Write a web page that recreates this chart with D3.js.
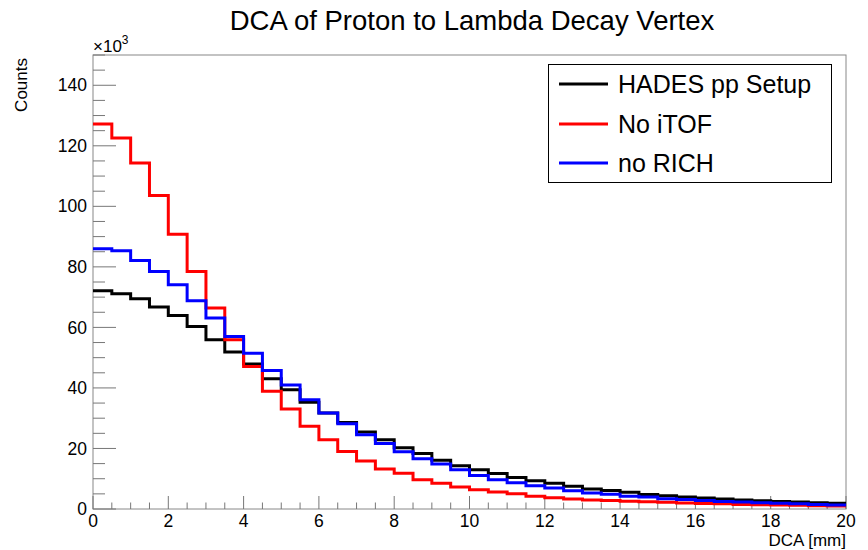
<!DOCTYPE html>
<html>
<head>
<meta charset="utf-8">
<script src="https://cdn.jsdelivr.net/npm/d3@7"></script>
<style>
	body { margin: 0; background: #fff; }
	svg text { font-family: "Liberation Sans", Arial, sans-serif; fill: #000; }
</style>
</head>
<body>
<svg id="chart" width="868" height="550"></svg>
<script>
	// bin contents (x10^3 counts), 40 bins of 0.5 mm from 0 to 20 mm
	var hadesPP = [72.1, 71.1, 69.5, 66.7, 63.9, 60.3, 55.9, 51.9, 47.9, 43.0,
		39.4, 35.3, 31.7, 28.6, 25.4, 22.9, 20.2, 18.3, 16.1, 14.3,
		13.0, 11.7, 10.4, 9.3, 8.5, 7.5, 6.6, 6.1, 5.5, 4.8,
		4.4, 4.0, 3.6, 3.3, 3.0, 2.7, 2.5, 2.3, 2.1, 1.9]
	var noITOF = [127.2, 122.6, 114.3, 103.6, 90.8, 78.5, 66.4, 55.9, 47.1, 38.9,
		33.0, 27.3, 22.9, 19.0, 15.9, 13.2, 11.8, 9.7, 8.5, 7.3,
		6.4, 5.6, 5.0, 4.2, 3.7, 3.3, 3.0, 2.8, 2.6, 2.4,
		2.2, 2.0, 1.8, 1.7, 1.5, 1.4, 1.3, 1.2, 1.1, 1.0]
	var noRICH = [86.0, 85.3, 82.1, 78.5, 74.1, 68.8, 63.1, 57.0, 51.5, 45.8,
		41.0, 36.1, 31.7, 28.2, 24.5, 21.6, 18.9, 16.6, 14.9, 13.0,
		11.1, 9.7, 8.7, 7.7, 6.9, 6.0, 5.3, 4.9, 4.2, 4.0,
		3.4, 3.1, 2.8, 2.5, 2.3, 2.1, 1.9, 1.7, 1.5, 1.3]

	var seriesNames = ["HADES pp Setup", "No iTOF", "no RICH"]
	var seriesColors = ["#000000", "#ff0000", "#0000ff"]
	var xTicks = [0, 2, 4, 6, 8, 10, 12, 14, 16, 18, 20]
	var yTicks = [0, 20, 40, 60, 80, 100, 120, 140]

	var binWidth = 0.5
	// frame edges (avoid "top" etc, those are window globals)
	var frameL = 93, frameR = 846, frameT = 55, frameB = 509

	var svg = d3.select('#chart')

	var x = d3.scaleLinear().domain([0, 20]).range([frameL, frameR])
	var y = d3.scaleLinear().domain([0, 150]).range([frameB, frameT])

	// title
	svg.append('text')
		.attr('x', 472).attr('y', 30)
		.attr('text-anchor', 'middle')
		.style('font-size', '27.5px')
		.text('DCA of Proton to Lambda Decay Vertex')

	// frame
	svg.append('rect')
		.attr('x', frameL).attr('y', frameT)
		.attr('width', frameR - frameL).attr('height', frameB - frameT)
		.attr('fill', 'none').attr('stroke', '#888').attr('stroke-width', 1)

	var axisColor = '#777'

	// x ticks (major every 2, minor every 0.5)
	var xMinor = d3.range(0, 20.001, 0.5)
	svg.append('g').selectAll('line')
		.data(xMinor)
		.join('line')
		.attr('x1', d => x(d)).attr('x2', d => x(d))
		.attr('y1', frameB)
		.attr('y2', d => (d % 2 === 0) ? frameB - 13 : frameB - 6.5)
		.attr('stroke', axisColor).attr('stroke-width', 1)

	svg.append('g').selectAll('text')
		.data(xTicks)
		.join('text')
		.attr('x', d => x(d)).attr('y', 527)
		.attr('text-anchor', 'middle')
		.style('font-size', '17.5px')
		.text(d => d)

	svg.append('text')
		.attr('x', frameR).attr('y', 546)
		.attr('text-anchor', 'end')
		.style('font-size', '17px')
		.text('DCA [mm]')

	// y ticks (major every 20, minor every 5)
	var yMinor = d3.range(0, 150.001, 5)
	svg.append('g').selectAll('line')
		.data(yMinor)
		.join('line')
		.attr('y1', d => y(d)).attr('y2', d => y(d))
		.attr('x1', frameL)
		.attr('x2', d => (d % 20 === 0) ? frameL + 23 : frameL + 12)
		.attr('stroke', axisColor).attr('stroke-width', 1)

	svg.append('g').selectAll('text')
		.data(yTicks)
		.join('text')
		.attr('x', 87).attr('y', d => y(d))
		.attr('dy', '0.35em')
		.attr('text-anchor', 'end')
		.style('font-size', '17.5px')
		.text(d => d)

	var expo = svg.append('text')
		.attr('x', frameL).attr('y', 52)
		.style('font-size', '17px')
	expo.append('tspan').text('\u00d710')
	expo.append('tspan').attr('dy', -8).style('font-size', '12px').text('3')

	svg.append('text')
		.attr('transform', 'translate(27,58) rotate(-90)')
		.attr('text-anchor', 'end')
		.style('font-size', '17px')
		.text('Counts')

	// histograms as step lines
	var line = d3.line()
		.x(d => x(d[0]))
		.y(d => y(d[1]))
		.curve(d3.curveStepAfter)

	function stepPoints(values) {
		var pts = values.map((v, i) => [i * binWidth, v])
		pts.push([values.length * binWidth, values[values.length - 1]])
		return pts
	}

	var allSeries = [hadesPP, noITOF, noRICH]
	svg.append('g').selectAll('path')
		.data(allSeries)
		.join('path')
		.attr('d', d => line(stepPoints(d)))
		.attr('fill', 'none')
		.attr('stroke', (d, i) => seriesColors[i])
		.attr('stroke-width', 3)

	// legend
	var legend = svg.append('g')
	legend.append('rect')
		.attr('x', 548.5).attr('y', 64.5)
		.attr('width', 283).attr('height', 118)
		.attr('fill', '#fff').attr('stroke', '#000').attr('stroke-width', 1)

	var rowY = [84, 124, 163]
	seriesNames.forEach(function(name, i) {
		legend.append('line')
			.attr('x1', 559).attr('x2', 608)
			.attr('y1', rowY[i]).attr('y2', rowY[i])
			.attr('stroke', seriesColors[i]).attr('stroke-width', 3)
		legend.append('text')
			.attr('x', 618).attr('y', rowY[i] + 9)
			.style('font-size', '25px')
			.text(name)
	})
</script>
</body>
</html>
